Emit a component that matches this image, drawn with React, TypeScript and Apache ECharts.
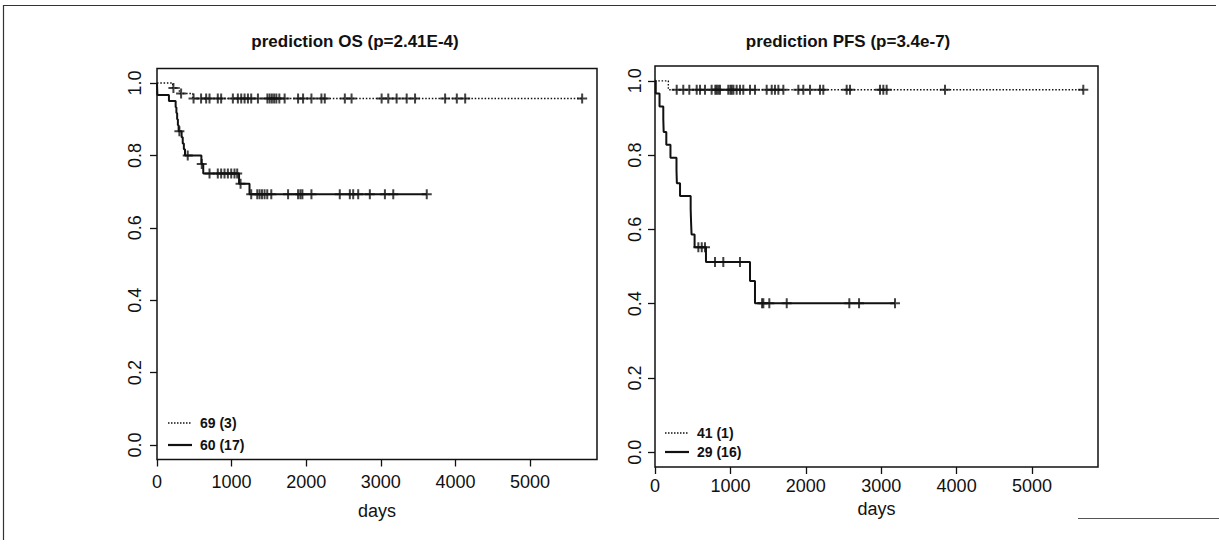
import React, { useEffect, useRef } from "react";
import * as echarts from "echarts";

// ---- axis ticks ----
const X_TICKS = [0, 1000, 2000, 3000, 4000, 5000];
const Y_TICKS = [0, 0.2, 0.4, 0.6, 0.8, 1.0];

// ---- titles / legends ----
const TITLES = ["prediction OS (p=2.41E-4)", "prediction PFS (p=3.4e-7)"];
const OS_LEGEND = ["69 (3)", "60 (17)"];
const PFS_LEGEND = ["41 (1)", "29 (16)"];

// ---- OS, group "69 (3)" (dotted) ----
const osGoodT = [0, 210, 300, 480];
const osGoodS = [1.0, 0.986, 0.971, 0.957];
const osGoodEnd = 5699;
const osGoodCensor = [220, 323, 490, 591, 659, 704, 815, 860, 1017, 1084, 1129, 1174, 1219, 1263, 1353, 1480, 1510, 1540, 1570, 1600, 1640, 1711, 1891, 1958, 2070, 2204, 2249, 2518, 2608, 3011, 3100, 3212, 3347, 3459, 3862, 4019, 4131, 5699];

// ---- OS, group "60 (17)" (solid) ----
const osPoorT = [0, 5, 160, 250, 260, 270, 280, 290, 330, 345, 360, 375, 595, 620, 1100, 1240];
const osPoorS = [1.0, 0.967, 0.95, 0.933, 0.917, 0.9, 0.883, 0.867, 0.85, 0.833, 0.817, 0.8, 0.776, 0.75, 0.722, 0.693];
const osPoorEnd = 3616;
const osPoorCensor = [300, 412, 600, 704, 815, 860, 905, 950, 995, 1039, 1075, 1120, 1263, 1344, 1375, 1407, 1442, 1478, 1532, 1757, 1891, 1922, 1949, 2070, 2450, 2585, 2630, 2697, 2853, 3055, 3167, 3616];

// ---- PFS, group "41 (1)" (dotted) ----
const pfsGoodT = [0, 177];
const pfsGoodS = [1.0, 0.976];
const pfsGoodEnd = 5680;
const pfsGoodCensor = [288, 375, 455, 553, 597, 663, 751, 800, 818, 840, 862, 972, 1000, 1017, 1040, 1083, 1127, 1171, 1260, 1326, 1481, 1548, 1591, 1636, 1702, 1901, 1967, 2056, 2188, 2232, 2542, 2586, 2984, 3028, 3072, 3846, 5680];

// ---- PFS, group "29 (16)" (solid) ----
const pfsPoorT = [0, 10, 60, 110, 115, 150, 205, 285, 290, 332, 473, 478, 485, 525, 676, 1260, 1326];
const pfsPoorS = [1.0, 0.966, 0.931, 0.897, 0.862, 0.828, 0.793, 0.759, 0.724, 0.69, 0.655, 0.621, 0.586, 0.552, 0.512, 0.461, 0.401];
const pfsPoorEnd = 3183;
const pfsPoorCensor = [575, 620, 663, 796, 906, 1127, 1420, 1437, 1516, 1747, 2577, 2706, 3183];

const INK = "#111";
const FONT = "Liberation Sans";
const PLUS = "path://M4,0h2v4h4v2h-4v4h-2v-4h-4v-2h4z";

function curve(T: number[], S: number[], end: number) {
  const pts = T.map((t, i) => [t, S[i]]);
  pts.push([end, S[S.length - 1]]);
  return pts;
}
function survAt(T: number[], S: number[], t: number) {
  let s = S[0];
  for (let i = 0; i < T.length; i++) if (T[i] <= t) s = S[i];
  return s;
}
function marks(T: number[], S: number[], C: number[]) {
  return C.map((t) => [t, survAt(T, S, t)]);
}

export default function App() {
  const ref = useRef<HTMLDivElement>(null);
  useEffect(() => {
    if (!ref.current) return;
    const chart = echarts.init(ref.current, null, { renderer: "svg" });

    const xAxisBase = (gi: number, max: number, margin: number, nameGap: number) => ({
      type: "value",
      gridIndex: gi,
      min: 0,
      max,
      axisLine: { show: false, onZero: false },
      axisTick: { show: true, customValues: X_TICKS, length: 7, lineStyle: { color: INK, width: 1.3 } },
      axisLabel: {
        customValues: X_TICKS,
        fontSize: 18,
        color: INK,
        fontFamily: FONT,
        margin,
        formatter: (v: number) => String(Math.round(v)),
      },
      splitLine: { show: false },
      name: "days",
      nameLocation: "middle",
      nameGap,
      nameTextStyle: { fontSize: 18, color: INK, fontFamily: FONT },
    });
    const yAxisBase = (gi: number, margin: number) => ({
      type: "value",
      gridIndex: gi,
      min: -0.04,
      max: 1.04,
      axisLine: { show: false, onZero: false },
      axisTick: { show: true, customValues: Y_TICKS, length: 7, lineStyle: { color: INK, width: 1.3 } },
      axisLabel: {
        customValues: Y_TICKS,
        rotate: 90,
        fontSize: 18,
        color: INK,
        fontFamily: FONT,
        margin,
        formatter: (v: number) => v.toFixed(1),
      },
      splitLine: { show: false },
    });

    const lineSeries = (gi: number, data: number[][], dotted: boolean) => ({
      type: "line",
      xAxisIndex: gi,
      yAxisIndex: gi,
      step: "end",
      data,
      showSymbol: false,
      symbol: "none",
      lineStyle: dotted
        ? { color: INK, width: 1.4, type: [1.5, 1.8] }
        : { color: INK, width: 2 },
      silent: true,
    });
    const markSeries = (gi: number, data: number[][]) => ({
      type: "scatter",
      xAxisIndex: gi,
      yAxisIndex: gi,
      data,
      symbol: PLUS,
      symbolSize: 10,
      itemStyle: { color: INK },
      silent: true,
    });

    const legendItems = (x: number, y1: number, y2: number, labels: string[]) => [
      { type: "line", shape: { x1: x, y1, x2: x + 24, y2: y1 }, style: { stroke: INK, lineWidth: 1.3, lineDash: [1.5, 1.5] } },
      { type: "line", shape: { x1: x, y1: y2, x2: x + 24, y2 }, style: { stroke: INK, lineWidth: 2.2 } },
      { type: "text", x: x + 32, y: y1, style: { text: labels[0], font: `bold 14px ${FONT}`, fill: INK, verticalAlign: "middle", textVerticalAlign: "middle" } },
      { type: "text", x: x + 32, y: y2, style: { text: labels[1], font: `bold 14px ${FONT}`, fill: INK, verticalAlign: "middle", textVerticalAlign: "middle" } },
    ];

    chart.setOption({
      animation: false,
      backgroundColor: "#fff",
      grid: [
        { left: 157, top: 68.5, width: 440, height: 391, show: true, borderColor: INK, borderWidth: 1.5, backgroundColor: "transparent" },
        { left: 655, top: 66, width: 443, height: 401, show: true, borderColor: INK, borderWidth: 1.5, backgroundColor: "transparent" },
      ],
      xAxis: [xAxisBase(0, 5898, 13, 42), xAxisBase(1, 5875, 10, 33)],
      yAxis: [yAxisBase(0, 13), yAxisBase(1, 11)],
      series: [
        lineSeries(0, curve(osGoodT, osGoodS, osGoodEnd), true),
        lineSeries(0, curve(osPoorT, osPoorS, osPoorEnd), false),
        markSeries(0, marks(osGoodT, osGoodS, osGoodCensor)),
        markSeries(0, marks(osPoorT, osPoorS, osPoorCensor)),
        lineSeries(1, curve(pfsGoodT, pfsGoodS, pfsGoodEnd), true),
        lineSeries(1, curve(pfsPoorT, pfsPoorS, pfsPoorEnd), false),
        markSeries(1, marks(pfsGoodT, pfsGoodS, pfsGoodCensor)),
        markSeries(1, marks(pfsPoorT, pfsPoorS, pfsPoorCensor)),
      ],
      graphic: [
        // outer frame (scanned figure border)
        { type: "line", shape: { x1: 3.5, y1: 5, x2: 3.5, y2: 540 }, style: { stroke: "#333", lineWidth: 1.2 } },
        { type: "line", shape: { x1: 3, y1: 5.5, x2: 1216, y2: 5.5 }, style: { stroke: "#333", lineWidth: 1.2 } },
        { type: "line", shape: { x1: 1078, y1: 518.5, x2: 1219, y2: 518.5 }, style: { stroke: "#555", lineWidth: 1.2 } },
        // titles
        { type: "text", x: 355, y: 41, style: { text: TITLES[0], font: `bold 17px ${FONT}`, fill: INK, align: "center", verticalAlign: "middle", textAlign: "center", textVerticalAlign: "middle" } },
        { type: "text", x: 848, y: 41, style: { text: TITLES[1], font: `bold 17px ${FONT}`, fill: INK, align: "center", verticalAlign: "middle", textAlign: "center", textVerticalAlign: "middle" } },
        ...legendItems(168, 423, 445, OS_LEGEND),
        ...legendItems(665, 433, 452, PFS_LEGEND),
      ],
    });
    return () => chart.dispose();
  }, []);
  return <div ref={ref} style={{ position: "fixed", left: 0, top: 0, width: 1219, height: 548 }} />;
}
